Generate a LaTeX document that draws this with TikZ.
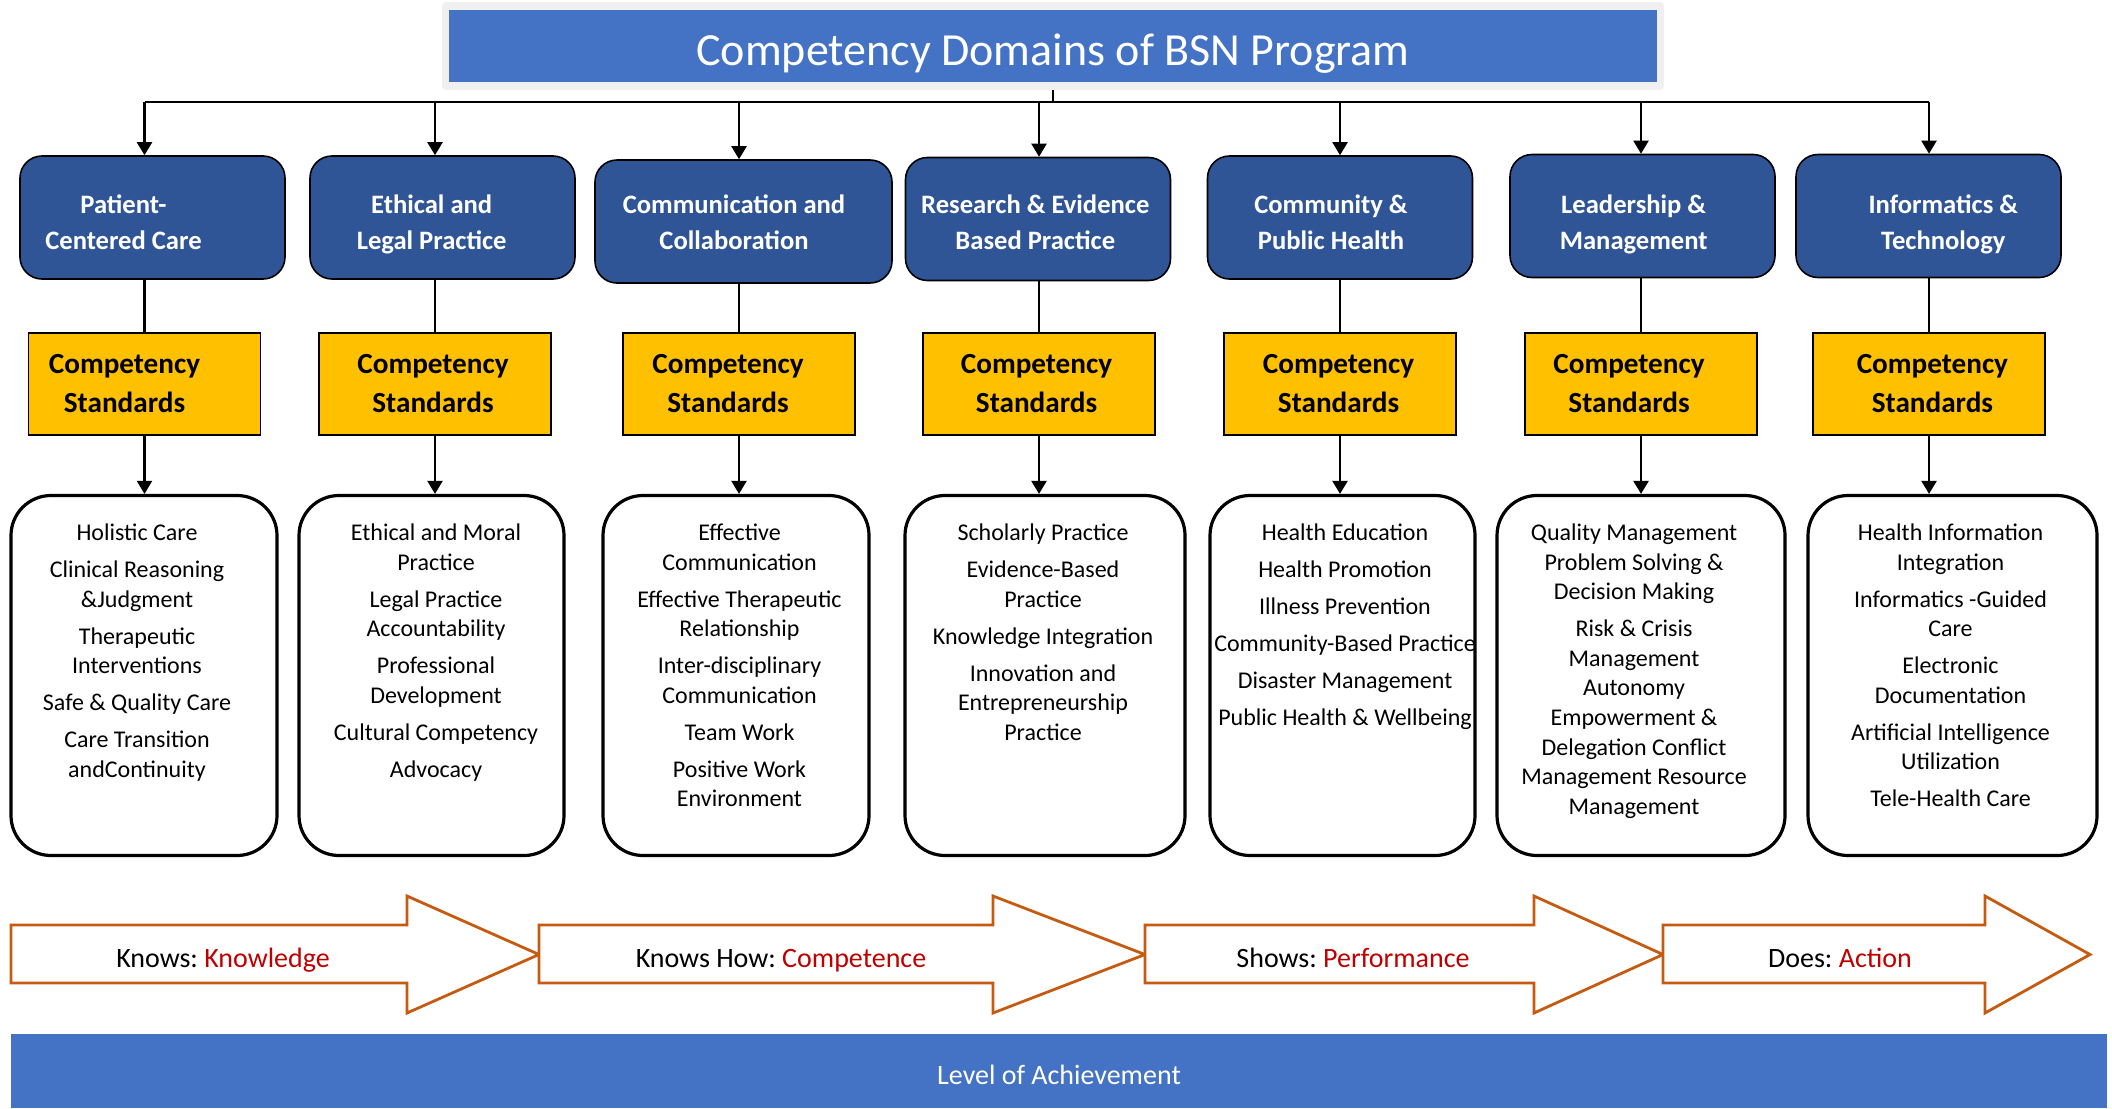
\documentclass[tikz,border=0pt]{standalone}
\usepackage{fontspec}
\setmainfont{Carlito}
\usetikzlibrary{arrows.meta}
\definecolor{titleblue}{RGB}{68,114,196}
\definecolor{domainblue}{RGB}{47,85,151}
\definecolor{stdgold}{RGB}{255,192,0}
\definecolor{stageorange}{RGB}{197,90,17}
\definecolor{darkred}{RGB}{192,0,0}
\definecolor{framegray}{RGB}{240,240,240}
\newcommand{\itemfont}{\fontsize{12}{14.8}\selectfont}
\newcommand{\stagearrow}[3]{\draw[stagebox] (#1,925)--(#2,925)--(#2,896)--(#3,954.5)--(#2,1013)--(#2,983)--(#1,983)--cycle;}
\tikzset{
  framebox/.style={fill=framegray, rounded corners=2pt, minimum width=611pt, minimum height=44pt},
  titlebox/.style={fill=titleblue, text=white, minimum width=604pt, minimum height=36pt,
    text height=21pt, text depth=1.7pt, font=\fontsize{23}{28}\selectfont},
  domainbox/.style={draw=black, line width=0.8pt, fill=domainblue, rounded corners=11pt,
    minimum width=132.5pt, minimum height=61.5pt, inner sep=0pt},
  domaintext/.style={anchor=north, align=center, inner sep=0pt, text=white, font=\fontsize{13.3}{18}\selectfont\bfseries},
  stdbox/.style={draw=black, line width=0.8pt, fill=stdgold, minimum width=116pt, minimum height=51pt, inner sep=0pt},
  stdtext/.style={align=center, inner sep=0pt, font=\fontsize{14.6}{19.5}\selectfont\bfseries},
  listbox/.style={draw=black, line width=1.6pt, rounded corners=20pt, minimum height=180pt},
  listtext/.style={anchor=north, align=center, inner sep=0pt, font=\itemfont},
  linkline/.style={line width=1.1pt},
  dropline/.style={linkline, -{Triangle[width=7.5pt,length=6.5pt]}},
  stagebox/.style={draw=stageorange, line width=1.4pt, fill=white, line join=miter},
  stagelabel/.style={anchor=base, inner sep=0pt, font=\fontsize{14}{17}\selectfont},
  levelband/.style={fill=titleblue, text=white, minimum width=1048pt, minimum height=37pt,
    text height=13.8pt, text depth=0pt, font=\fontsize{14}{17}\selectfont}
}
\begin{document}
\frenchspacing
\begin{tikzpicture}[x=0.5pt,y=-0.5pt]
\useasboundingbox (0,0) rectangle (2112,1108);
% heading
\node[framebox] (titleframe) at (1053,46) {};
\node[titlebox] (title) at (1053,46) {Competency Domains of BSN Program};
\coordinate (hub) at (1053,102);
% domains
\node[domainbox] (dom1) at (152.5,217.5) {};
\node[domainbox] (dom2) at (442.5,217.5) {};
\node[domainbox, minimum width=148.5pt] (dom3) at (743.5,221.5) {};
\node[domainbox] (dom4) at (1038,219) {};
\node[domainbox] (dom5) at (1340,217.5) {};
\node[domainbox] (dom6) at (1642.5,216) {};
\node[domainbox] (dom7) at (1928.5,216) {};
\node[domaintext] (domtext1) at (123.5,194) {Patient-\\Centered Care};
\node[domaintext] (domtext2) at (431.7,194) {Ethical and\\Legal Practice};
\node[domaintext] (domtext3) at (734,194) {Communication and\\Collaboration};
\node[domaintext] (domtext4) at (1035.3,194) {Research \& Evidence\\Based Practice};
\node[domaintext] (domtext5) at (1331,194) {Community \&\\Public Health};
\node[domaintext] (domtext6) at (1633.7,194) {Leadership \&\\Management};
\node[domaintext] (domtext7) at (1943.3,194) {Informatics \&\\Technology};
% standards
\foreach \i/\x/\dx in {1/144.5/-20,2/435/-2,3/739/-11,4/1039/-2.5,5/1340/-1.5,6/1641/-12,7/1929/3.4}{
  \node[stdbox] (std\i) at (\x,384) {};
  \node[stdtext] (stdtext\i) at (\x+\dx,384) {Competency\\Standards};
}
% competency lists
\node[listbox, minimum width=133pt] (list1) at (144,675.5) {};
\node[listbox, minimum width=132.5pt] (list2) at (431.5,675.5) {};
\node[listbox, minimum width=133pt] (list3) at (736,675.5) {};
\node[listbox, minimum width=140pt] (list4) at (1045,675.5) {};
\node[listbox, minimum width=132.5pt] (list5) at (1342.5,675.5) {};
\node[listbox, minimum width=144pt] (list6) at (1641,675.5) {};
\node[listbox, minimum width=144.5pt] (list7) at (1952.5,675.5) {};
\node[listtext] (text1) at (137,523.5) {Holistic Care\\[3.7pt]Clinical Reasoning\\\&Judgment\\[3.7pt]Therapeutic\\Interventions\\[3.7pt]Safe \& Quality Care\\[3.7pt]Care Transition\\andContinuity};
\node[listtext] (text2) at (436,523.5) {Ethical and Moral\\Practice\\[3.7pt]Legal Practice\\Accountability\\[3.7pt]Professional\\Development\\[3.7pt]Cultural Competency\\[3.7pt]Advocacy};
\node[listtext] (text3) at (739.5,523.5) {Effective\\Communication\\[3.7pt]Effective Therapeutic\\Relationship\\[3.7pt]Inter-disciplinary\\Communication\\[3.7pt]Team Work\\[3.7pt]Positive Work\\Environment};
\node[listtext] (text4) at (1043,523.5) {Scholarly Practice\\[3.7pt]Evidence-Based\\Practice\\[3.7pt]Knowledge Integration\\[3.7pt]Innovation and\\Entrepreneurship\\Practice};
\node[listtext] (text5) at (1345,523.5) {Health Education\\[3.7pt]Health Promotion\\[3.7pt]Illness Prevention\\[3.7pt]Community-Based Practice\\[3.7pt]Disaster Management\\[3.7pt]Public Health \& Wellbeing};
\node[listtext] (text6) at (1634,523.5) {Quality Management\\Problem Solving \&\\Decision Making\\[3.7pt]Risk \& Crisis\\Management\\Autonomy\\Empowerment \&\\Delegation Conflict\\Management Resource\\Management};
\node[listtext] (text7) at (1950.5,523.5) {Health Information\\Integration\\[3.7pt]Informatics -Guided\\Care\\[3.7pt]Electronic\\Documentation\\[3.7pt]Artificial Intelligence\\Utilization\\[3.7pt]Tele-Health Care};
% connectors
\draw[linkline] (titleframe.south) -- (hub);
\draw[linkline] (std1.north |- hub) -- (std7.north |- hub);
\foreach \i in {1,...,7}{
  \draw[dropline] (std\i.north |- hub) -- (std\i.north |- dom\i.north);
  \draw[linkline] (std\i.north |- dom\i.south) -- (std\i.north);
  \draw[dropline] (std\i.south) -- (std\i.south |- list\i.north);
}
% stages of achievement
\stagearrow{11}{407}{539}
\stagearrow{539}{993}{1145}
\stagearrow{1145}{1534}{1663}
\stagearrow{1663}{1985}{2090}
\node[stagelabel] (knows) at (223,967.5) {Knows: \textcolor{darkred}{Knowledge}};
\node[stagelabel] (knowshow) at (781,967.5) {Knows How: \textcolor{darkred}{Competence}};
\node[stagelabel] (shows) at (1353,967.5) {Shows: \textcolor{darkred}{Performance}};
\node[stagelabel] (does) at (1840,967.5) {Does: \textcolor{darkred}{Action}};
\node[levelband] (level) at (1059,1071) {Level of Achievement};
\end{tikzpicture}
\end{document}
